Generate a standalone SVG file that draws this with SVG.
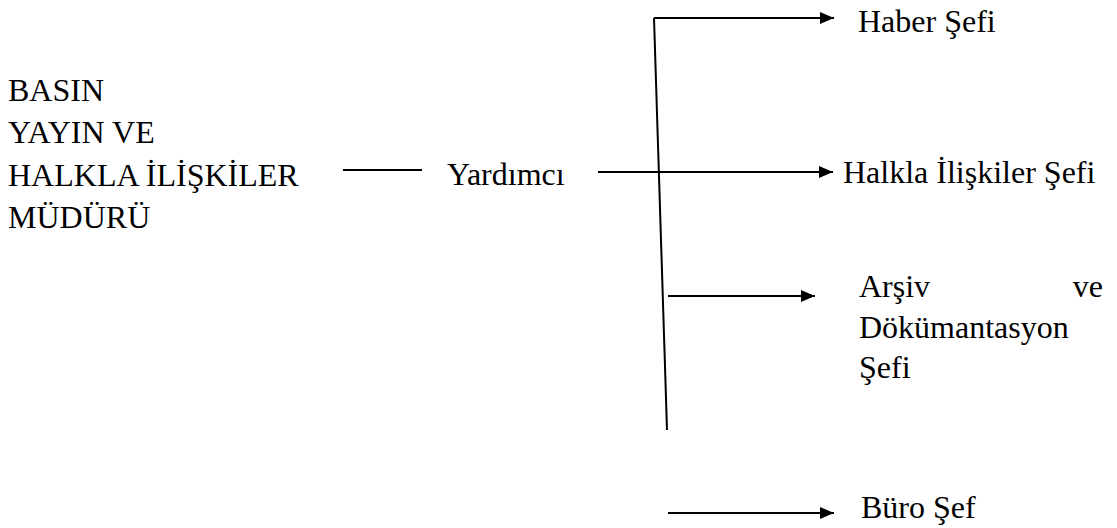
<svg xmlns="http://www.w3.org/2000/svg" width="1117" height="528" viewBox="0 0 1117 528">
  <style>
    .t { font-family: "Liberation Serif", "Times New Roman", serif; font-size: 32px; fill: #000; }
    .ln { stroke: #000; stroke-width: 2; fill: none; }
  </style>
  <defs>
    <marker id="arrow" viewBox="0 0 14 12" refX="14" refY="6" markerWidth="14" markerHeight="12" markerUnits="userSpaceOnUse" orient="auto">
      <path d="M0,0 L14,6 L0,12 Z" fill="#000"/>
    </marker>
  </defs>
  <rect width="1117" height="528" fill="#fff"/>

  <g id="connectors">
    <line class="ln" x1="343" y1="170" x2="422" y2="170"/>
    <line class="ln" x1="654" y1="18" x2="667" y2="430"/>
    <polyline class="ln" points="654,18 834,18" marker-end="url(#arrow)"/>
    <line class="ln" x1="598" y1="172" x2="833" y2="172" marker-end="url(#arrow)"/>
    <line class="ln" x1="668" y1="296" x2="815" y2="296" marker-end="url(#arrow)"/>
    <line class="ln" x1="668" y1="513" x2="834" y2="513" marker-end="url(#arrow)"/>
  </g>

  <g id="mudur">
    <text class="t" x="8" y="101">BASIN</text>
    <text class="t" x="8" y="143">YAYIN VE</text>
    <text class="t" x="8" y="186">HALKLA İLİŞKİLER</text>
    <text class="t" x="8" y="228">MÜDÜRÜ</text>
  </g>

  <g id="yardimci">
    <text class="t" x="447" y="185">Yardımcı</text>
  </g>

  <g id="haber-sefi">
    <text class="t" x="858" y="32">Haber Şefi</text>
  </g>

  <g id="halkla-iliskiler-sefi">
    <text class="t" x="843" y="183">Halkla İlişkiler Şefi</text>
  </g>

  <g id="arsiv-sefi">
    <text class="t" x="859" y="297">Arşiv</text>
    <text class="t" x="1103" y="297" text-anchor="end">ve</text>
    <text class="t" x="859" y="338">Dökümantasyon</text>
    <text class="t" x="859" y="378">Şefi</text>
  </g>

  <g id="buro-sef">
    <text class="t" x="861" y="518">Büro Şef</text>
  </g>
</svg>
